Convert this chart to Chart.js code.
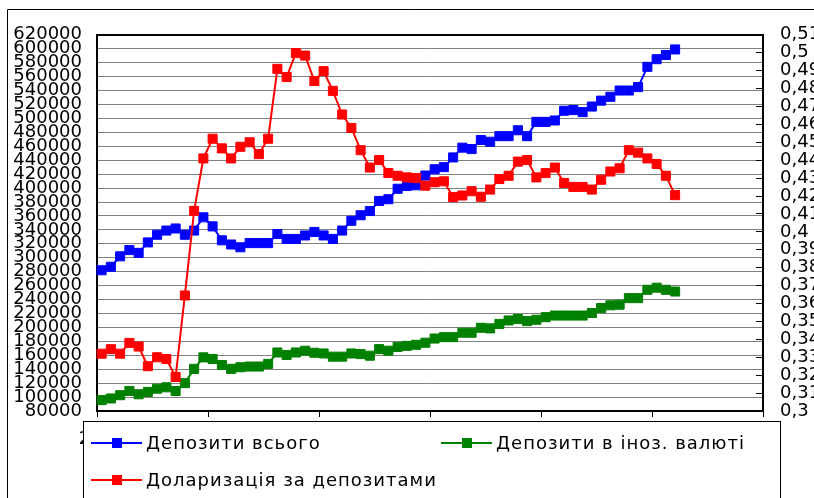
<!DOCTYPE html>
<html><head><meta charset="utf-8">
<script src="https://cdn.jsdelivr.net/npm/chart.js@4.4.1/dist/chart.umd.min.js"></script>
<style>html,body{margin:0;padding:0;background:#fff;overflow:hidden}canvas{display:block}</style>
</head><body>
<canvas id="c" width="814" height="498"></canvas>
<script>
// ---- data ----
const years = ['2008', '2009', '2010', '2011', '2012', '2013'];
const monthsPerYear = 12;
const categories = [];
years.forEach(y => { for (let m = 1; m <= monthsPerYear; m++) categories.push(y + '-' + String(m).padStart(2, '0')); });

const seriesNames = ['Депозити всього', 'Депозити в іноз. валюті', 'Доларизація за депозитами'];

const depositsTotal = [282000, 287000, 302000, 311000, 307000, 322000, 333000, 339000, 342000, 333000,
  339000, 358000, 345000, 325000, 319000, 315000, 321000, 321000, 321000, 334000,
  327000, 327000, 332000, 337000, 332000, 327000, 339000, 353000, 361000, 367000,
  381500, 384000, 399000, 403000, 404000, 418000, 427000, 430000, 444000, 458000,
  456000, 469000, 466500, 474500, 474500, 483000, 474500, 495000, 495000, 497000,
  511000, 512000, 509000, 517000, 525500, 531000, 540000, 540000, 545000, 574000,
  585000, 591000, 599000];

const depositsForeign = [95600, 98000, 102700, 108800, 104000, 107400, 112000, 114000, 108800, 120000,
  140500, 157000, 154700, 146000, 140500, 142800, 143800, 143800, 147600, 164000,
  160400, 164000, 166500, 163600, 162600, 158000, 158000, 162600, 161700, 159400,
  168800, 166500, 172000, 173500, 175000, 178000, 184000, 186000, 186000, 192400,
  192400, 199500, 198600, 205000, 210000, 212000, 209000, 211000, 214700, 217000,
  217000, 217000, 217000, 220700, 227800, 231700, 232600, 242000, 242000, 254000,
  257000, 254000, 251500];

const dollarization = [0.332, 0.3345, 0.332, 0.338, 0.336, 0.325, 0.330, 0.329, 0.319, 0.3645,
  0.4117, 0.441, 0.452, 0.4466, 0.441, 0.4475, 0.450, 0.4434, 0.452, 0.491,
  0.4864, 0.4998, 0.4984, 0.4842, 0.4897, 0.4787, 0.4655, 0.458, 0.4456, 0.4359,
  0.4401, 0.4328, 0.4313, 0.4304, 0.430, 0.4258, 0.4277, 0.4282, 0.4194, 0.4203,
  0.4227, 0.4196, 0.4236, 0.4295, 0.4313, 0.4392, 0.4401, 0.4304, 0.4328, 0.4359,
  0.4273, 0.4251, 0.4251, 0.4236, 0.4291, 0.4337, 0.4355, 0.4456, 0.4442, 0.441,
  0.4379, 0.4313, 0.4205];

const leftAxisRange = [80000, 620000, 20000];
const rightAxisRange = [0.3, 0.51, 0.01];

// ---- chart ----
const FONT = 'DejaVu Sans';
Chart.defaults.font.family = FONT;
Chart.defaults.font.size = 18;
Chart.defaults.color = '#000';

const decor = {
  id: 'decor',
  afterDraw(chart) {
    const ctx = chart.ctx;
    ctx.save();
    ctx.strokeStyle = '#000';
    ctx.lineWidth = 1;
    ctx.beginPath();
    ctx.moveTo(7.5, 498); ctx.lineTo(7.5, 9.5); ctx.lineTo(814, 9.5);
    ctx.stroke();
    // legend box
    ctx.fillStyle = '#fff';
    ctx.fillRect(83, 421, 698, 90);
    ctx.strokeRect(83.5, 421.5, 697, 90);
    const pos = [{x: 91, y: 443}, {x: 441, y: 443}, {x: 91, y: 480}];
    chart.data.datasets.forEach((ds, i) => {
      const p = pos[i];
      ctx.strokeStyle = ds.borderColor;
      ctx.lineWidth = 2;
      ctx.beginPath(); ctx.moveTo(p.x, p.y); ctx.lineTo(p.x + 51, p.y); ctx.stroke();
      ctx.fillStyle = ds.backgroundColor;
      ctx.fillRect(p.x + 21, p.y - 5, 10, 10);
      ctx.fillStyle = '#000';
      ctx.font = '18px "' + FONT + '"';
      ctx.letterSpacing = '1px';
      ctx.textBaseline = 'middle';
      ctx.textAlign = 'left';
      ctx.fillText(ds.label, p.x + 55, p.y + 1);
    });
    ctx.restore();
  }
};

const pointOpts = {pointStyle: 'rect', pointRadius: 6.4, pointHoverRadius: 6.4, pointBorderWidth: 1, borderWidth: 2, tension: 0, fill: false};

new Chart(document.getElementById('c'), {
  type: 'line',
  data: {
    labels: categories,
    datasets: [
      Object.assign({label: seriesNames[0], data: depositsTotal, borderColor: '#0000ff', backgroundColor: '#0000ff', yAxisID: 'y', order: 2}, pointOpts),
      Object.assign({label: seriesNames[1], data: depositsForeign, borderColor: '#008000', backgroundColor: '#008000', yAxisID: 'y', order: 1}, pointOpts),
      Object.assign({label: seriesNames[2], data: dollarization, borderColor: '#ff0000', backgroundColor: '#ff0000', yAxisID: 'y1', order: 0}, pointOpts)
    ]
  },
  options: {
    responsive: false,
    animation: false,
    devicePixelRatio: 1,
    layout: {padding: {top: 30, left: 0, right: 0, bottom: 0}},
    plugins: {legend: {display: false}, tooltip: {enabled: false}},
    scales: {
      x: {
        type: 'category',
        offset: true,
        grid: {
          offset: true,
          drawOnChartArea: false,
          drawTicks: true,
          tickLength: 6,
          lineWidth: 1,
          tickColor: (c) => (c.index === undefined || c.index % monthsPerYear === 0) ? '#000' : 'rgba(0,0,0,0)'
        },
        border: {color: '#000', width: 2},
        ticks: {
          autoSkip: false, maxRotation: 0, minRotation: 0, padding: 12,
          callback: (v, i) => (i % monthsPerYear === 0) ? years[i / monthsPerYear] : ''
        },
        afterFit: (s) => { s.height = 87; }
      },
      y: {
        position: 'left',
        min: leftAxisRange[0], max: leftAxisRange[1],
        ticks: {stepSize: leftAxisRange[2], autoSkip: false, padding: 15, callback: (v) => String(v)},
        grid: {
          drawTicks: false,
          color: (c) => (c.tick && c.tick.value === leftAxisRange[1]) ? '#000' : '#808080',
          lineWidth: (c) => (c.tick && c.tick.value === leftAxisRange[1]) ? 2 : 1
        },
        border: {color: '#000', width: 2},
        afterFit: (s) => { s.width = 97; }
      },
      y1: {
        position: 'right',
        min: rightAxisRange[0], max: rightAxisRange[1],
        ticks: {stepSize: rightAxisRange[2], autoSkip: false, padding: 24,
          callback: (v) => v.toFixed(2).replace(/0$/, '').replace('.', ',')},
        grid: {drawOnChartArea: false, drawTicks: true, tickLength: -7, tickColor: '#000', lineWidth: 1},
        border: {color: '#000', width: 2},
        afterFit: (s) => { s.width = 51; }
      }
    }
  },
  plugins: [decor]
});
</script>
</body></html>
